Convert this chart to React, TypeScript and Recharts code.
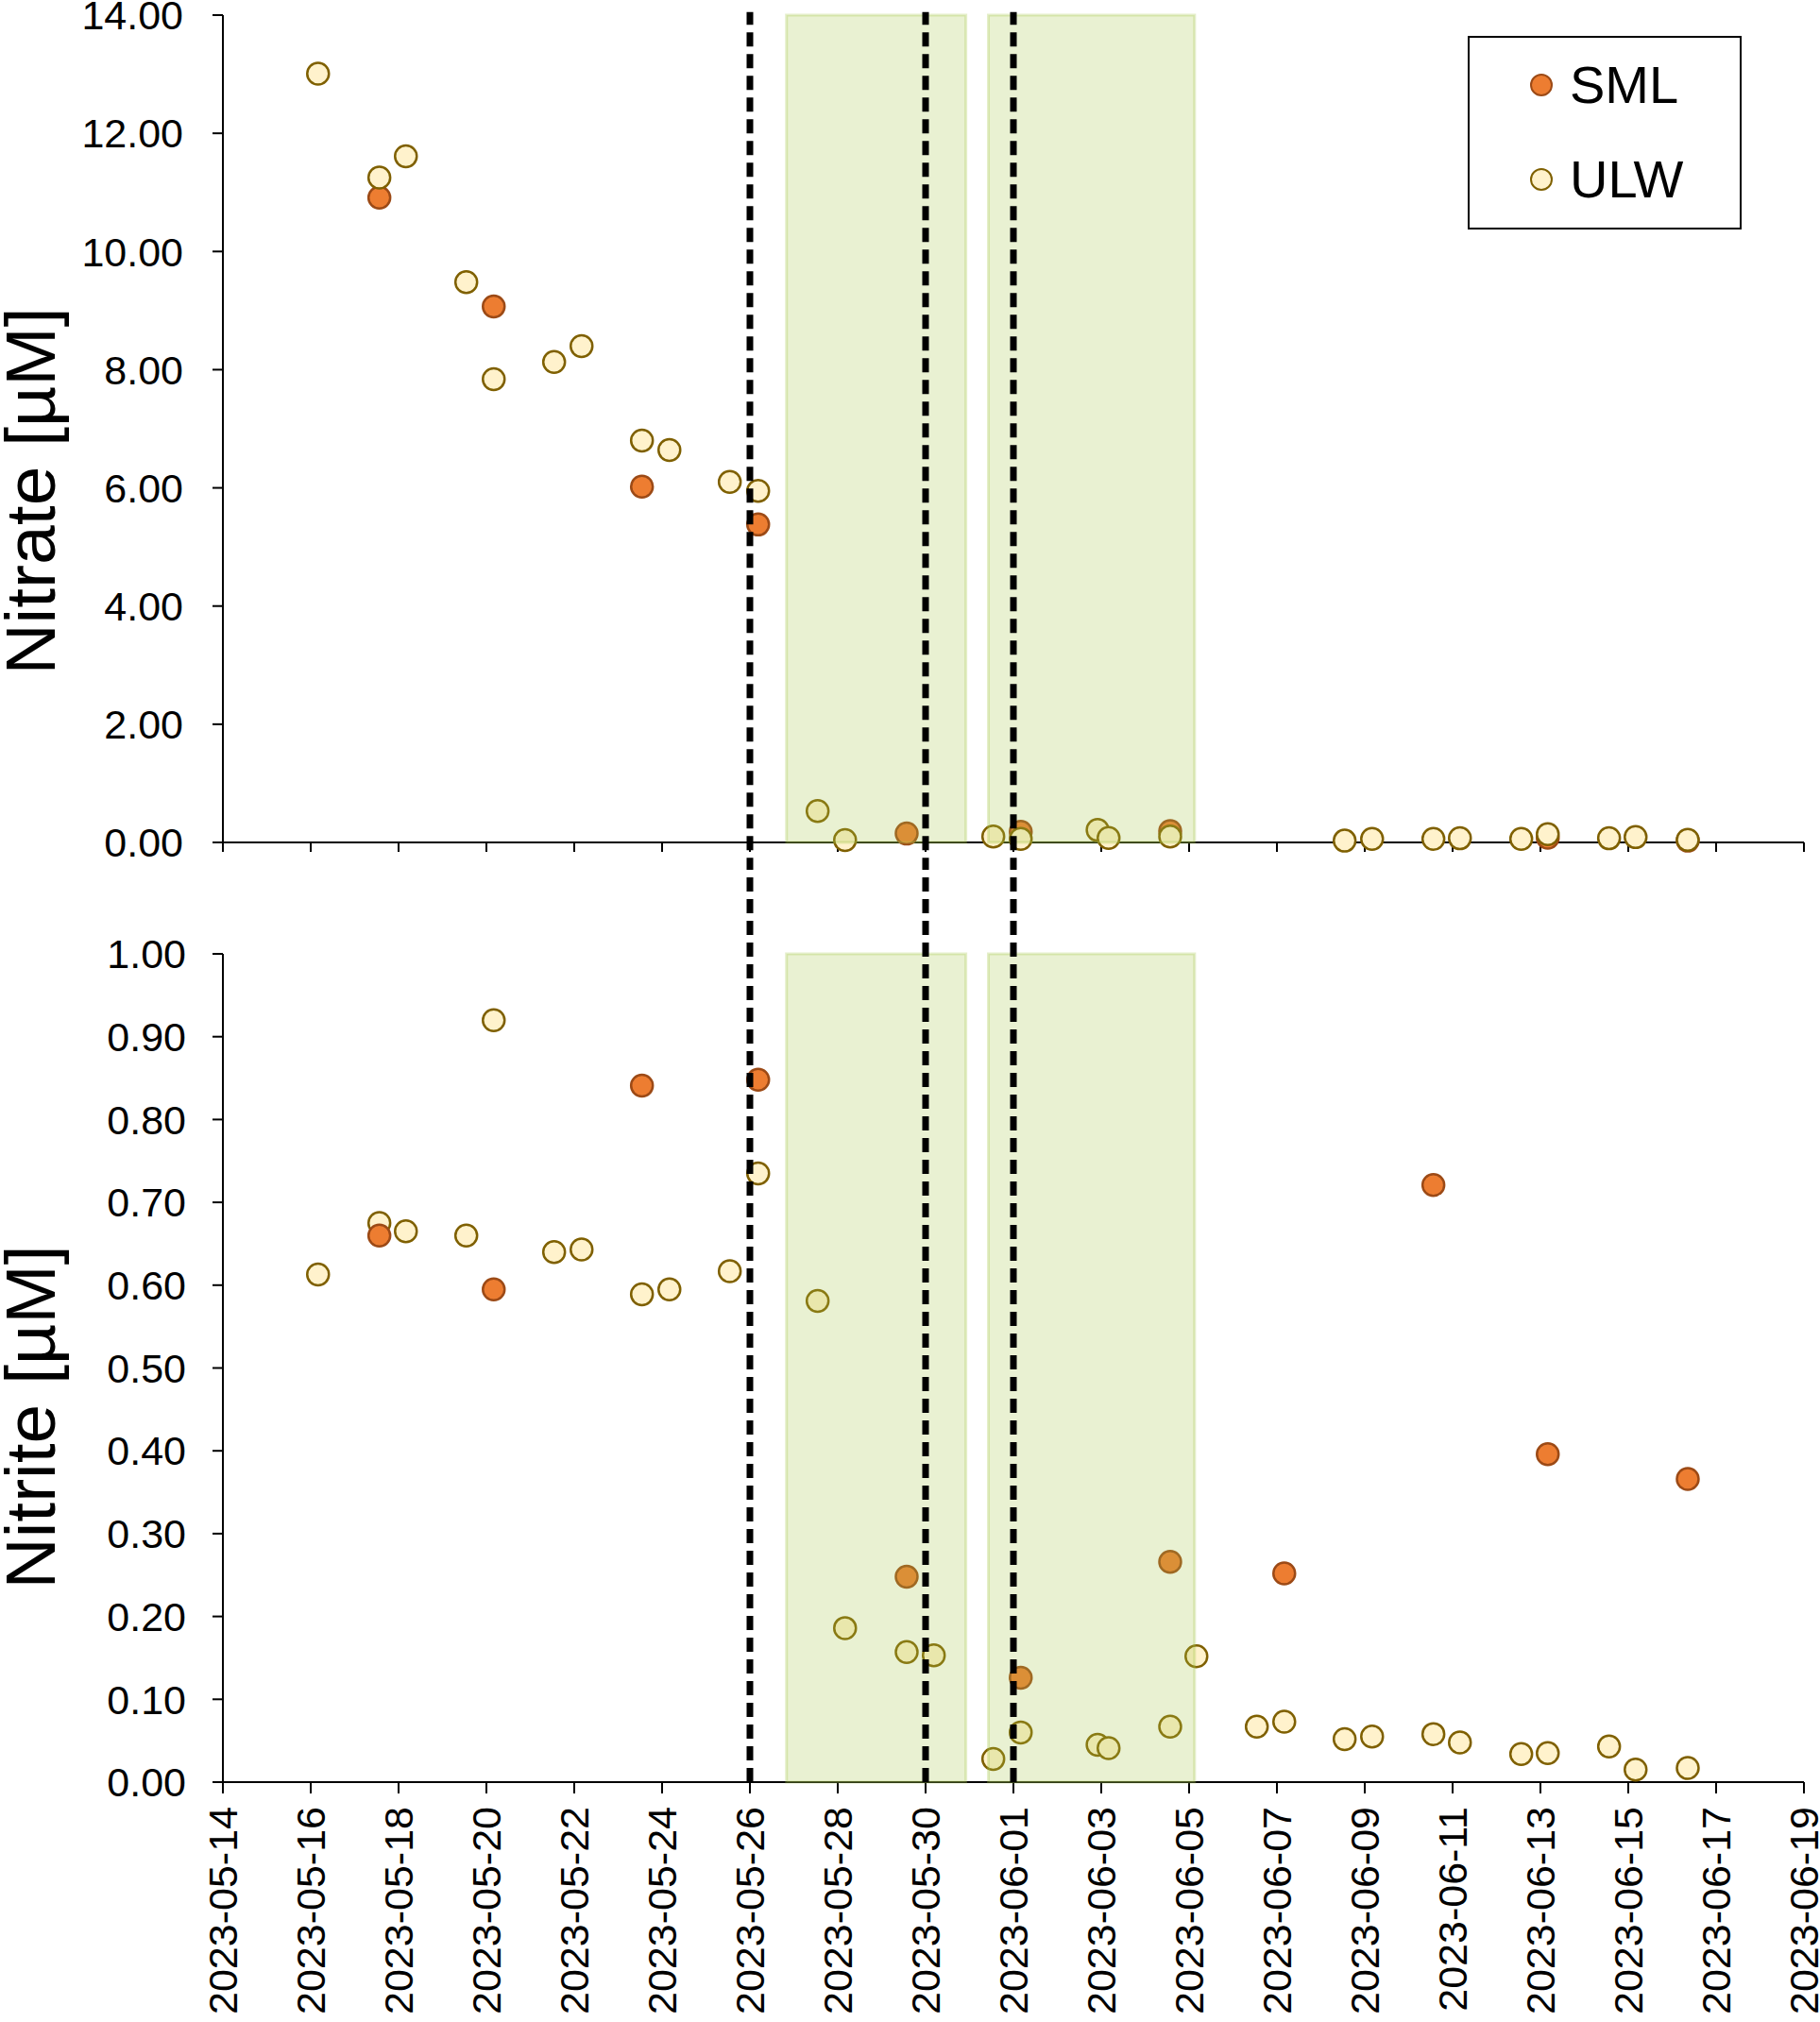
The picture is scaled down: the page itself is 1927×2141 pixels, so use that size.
import React from 'react'
import {
  ScatterChart,
  Scatter,
  XAxis,
  YAxis,
  ReferenceLine,
  ReferenceArea,
  Legend,
  Label,
} from 'recharts'

// Sampling times (UTC) shared by both panels
const SAMPLE_TIMES = [
  '2023-05-16T04:00', '2023-05-17T13:30', '2023-05-18T04:00', '2023-05-19T13:00',
  '2023-05-20T04:00', '2023-05-21T13:00', '2023-05-22T04:00', '2023-05-23T13:00',
  '2023-05-24T04:00', '2023-05-25T13:00', '2023-05-26T04:30', '2023-05-27T13:00',
  '2023-05-28T04:00', '2023-05-29T13:40', '2023-05-30T04:30', '2023-05-31T13:00',
  '2023-06-01T04:00', '2023-06-02T22:00', '2023-06-03T04:00', '2023-06-04T13:40',
  '2023-06-05T04:00', '2023-06-06T13:00', '2023-06-07T04:00', '2023-06-08T13:00',
  '2023-06-09T04:00', '2023-06-10T13:30', '2023-06-11T04:00', '2023-06-12T13:30',
  '2023-06-13T04:00', '2023-06-14T13:30', '2023-06-15T04:00', '2023-06-16T08:30',
]

const NITRATE_ULW = [
  13.01, 11.25, 11.61, 9.48, 7.84, 8.13, 8.4, 6.8, 6.64, 6.1, 5.95, 0.53, 0.04, null, null, 0.1,
  0.06, 0.21, 0.075, 0.1, null, null, null, 0.03, 0.06, 0.06, 0.07, 0.06, 0.14, 0.07, 0.09, 0.045,
]
const NITRATE_SML = [
  null, 10.91, null, null, 9.07, null, null, 6.02, null, null, 5.38, null, null, 0.15, null, null,
  0.18, null, null, 0.19, null, null, null, null, null, null, null, null, 0.08, null, null, 0.03,
]
const NITRITE_ULW = [
  0.613, 0.675, 0.665, 0.66, 0.92, 0.64, 0.643, 0.589, 0.595, 0.617, 0.735, 0.581, 0.186, 0.157,
  0.153, 0.028, 0.06, 0.045, 0.041, 0.067, 0.152, 0.067, 0.073, 0.052, 0.055, 0.058, 0.048, 0.034,
  0.035, 0.043, 0.015, 0.017,
]
const NITRITE_SML = [
  null, 0.66, null, null, 0.595, null, null, 0.841, null, null, 0.848, null, null, 0.248, null, null,
  0.126, null, null, 0.266, null, null, 0.252, null, null, 0.721, null, null, 0.396, null, null, 0.366,
]

const X_TICK_DATES = [
  '2023-05-14', '2023-05-16', '2023-05-18', '2023-05-20', '2023-05-22', '2023-05-24', '2023-05-26',
  '2023-05-28', '2023-05-30', '2023-06-01', '2023-06-03', '2023-06-05', '2023-06-07', '2023-06-09',
  '2023-06-11', '2023-06-13', '2023-06-15', '2023-06-17', '2023-06-19',
]
const NITRATE_TICKS = [0, 2, 4, 6, 8, 10, 12, 14]
const NITRITE_TICKS = [0, 0.1, 0.2, 0.3, 0.4, 0.5, 0.6, 0.7, 0.8, 0.9, 1.0]

// event markers (dashed) and shaded periods
const EVENT_DATES = ['2023-05-26T00:00', '2023-05-30T00:00', '2023-06-01T00:00']
const SHADED_PERIODS = [
  ['2023-05-26T20:00', '2023-05-30T22:00'],
  ['2023-05-31T10:20', '2023-06-05T03:00'],
]

const toMs = (s: string) => Date.parse((s.length === 10 ? s + 'T00:00' : s) + 'Z')
const fmtDate = (v: number) => new Date(v).toISOString().slice(0, 10)

const xTicks = X_TICK_DATES.map(toMs)
const X_DOMAIN: [number, number] = [xTicks[0], xTicks[xTicks.length - 1]]

function toPoints(values: (number | null)[]) {
  return SAMPLE_TIMES.map((t, i) => ({ x: toMs(t), y: values[i] })).filter((p) => p.y !== null)
}

const STYLES: Record<string, { fill: string; stroke: string }> = {
  SML: { fill: '#ED7D31', stroke: '#9C4A16' },
  ULW: { fill: '#FFF2CC', stroke: '#7F6000' },
}

const FONT = '"Liberation Sans", Arial, sans-serif'
const AXIS_LINE = { stroke: '#000', strokeWidth: 2 }
const TICK_STYLE = { fill: '#000', fontSize: 43 }
const SHADE_FILL = '#A7C74B'

function makeDot(name: string) {
  const s = STYLES[name]
  return (props: any) => (
    <circle cx={props.cx} cy={props.cy} r={11.5} fill={s.fill} stroke={s.stroke} strokeWidth={2.5} />
  )
}

function yTitle(text: string, shift: number) {
  return (props: any) => {
    const vb = props.viewBox || { x: 0, y: 0, width: 0, height: 0 }
    const x = vb.x + 58
    const y = vb.y + vb.height / 2 + shift
    return (
      <text x={x} y={y} transform={`rotate(-90, ${x}, ${y})`} textAnchor="middle" fontSize={75} fill="#000">
        {text}
      </text>
    )
  }
}

function DateTick(props: any) {
  const { x, y, payload } = props
  return (
    <text
      x={x}
      y={y}
      transform={`rotate(-90, ${x}, ${y})`}
      textAnchor="end"
      dy="0.35em"
      fill="#000"
      fontSize={43}
    >
      {fmtDate(payload.value)}
    </text>
  )
}

function renderLegend(props: any) {
  const payload = props.payload || []
  return (
    <div
      style={{
        width: 290,
        height: 205,
        boxSizing: 'border-box',
        border: '2px solid #000',
        background: '#fff',
        fontFamily: FONT,
      }}
    >
      {payload.map((entry: any) => {
        const s = STYLES[entry.value]
        return (
          <div key={entry.value} style={{ height: 100, display: 'flex', alignItems: 'center' }}>
            <svg width={26} height={26} style={{ marginLeft: 63 }}>
              <circle cx={13} cy={13} r={11} fill={s.fill} stroke={s.stroke} strokeWidth={2} />
            </svg>
            <span style={{ marginLeft: 17, fontSize: 56, lineHeight: 1, color: '#000' }}>{entry.value}</span>
          </div>
        )
      })}
    </div>
  )
}

export default function App() {
  return (
    <div style={{ width: 1927, height: 2141, fontFamily: FONT, background: '#fff' }}>
      <style>{'body{margin:0}'}</style>
      <ScatterChart width={1927} height={920} margin={{ top: 16, right: 17, bottom: 0, left: 0 }}>
        <XAxis
          type="number"
          dataKey="x"
          domain={X_DOMAIN}
          ticks={xTicks}
          interval={0}
          tickFormatter={() => ''}
          tickSize={10}
          height={28}
          axisLine={AXIS_LINE}
          tickLine={AXIS_LINE}
        />
        <YAxis
          type="number"
          dataKey="y"
          domain={[0, 14]}
          ticks={NITRATE_TICKS}
          interval={0}
          width={236}
          tickSize={11}
          tickMargin={31}
          tickFormatter={(v: number) => v.toFixed(2)}
          tick={TICK_STYLE}
          axisLine={AXIS_LINE}
          tickLine={AXIS_LINE}
        >
          <Label content={yTitle('Nitrate [µM]', 66)} />
        </YAxis>
        <Scatter name="SML" data={toPoints(NITRATE_SML)} fill={STYLES.SML.fill} shape={makeDot('SML')} isAnimationActive={false} />
        <Scatter name="ULW" data={toPoints(NITRATE_ULW)} fill={STYLES.ULW.fill} shape={makeDot('ULW')} isAnimationActive={false} />
        {SHADED_PERIODS.map(([a, b]) => (
          <ReferenceArea
            key={a}
            x1={toMs(a)}
            x2={toMs(b)}
            y1={0}
            y2={14}
            fill={SHADE_FILL}
            fillOpacity={0.25}
            stroke={SHADE_FILL}
            strokeOpacity={0.3}
            strokeWidth={3}
            zIndex={700}
          />
        ))}
        {EVENT_DATES.map((d) => (
          <ReferenceLine
            key={d}
            segment={[
              { x: toMs(d), y: -0.5 },
              { x: toMs(d), y: 14.05 },
            ]}
            ifOverflow="visible"
            stroke="#000"
            strokeWidth={7}
            strokeDasharray="15 8"
            zIndex={800}
          />
        ))}
        <Legend
          content={renderLegend}
          layout="vertical"
          align="center"
          verticalAlign="middle"
          wrapperStyle={{ left: 1554, top: 38, width: 290, height: 205 }}
        />
      </ScatterChart>
      <ScatterChart width={1927} height={1221} margin={{ top: 90, right: 17, bottom: 0, left: 0 }}>
        <XAxis
          type="number"
          dataKey="x"
          domain={X_DOMAIN}
          ticks={xTicks}
          tick={<DateTick />}
          tickSize={12}
          tickMargin={14}
          height={254}
          interval={0}
          axisLine={AXIS_LINE}
          tickLine={AXIS_LINE}
        />
        <YAxis
          type="number"
          dataKey="y"
          domain={[0, 1]}
          ticks={NITRITE_TICKS}
          interval={0}
          width={236}
          tickSize={11}
          tickMargin={28}
          tickFormatter={(v: number) => v.toFixed(2)}
          tick={TICK_STYLE}
          axisLine={AXIS_LINE}
          tickLine={AXIS_LINE}
        >
          <Label content={yTitle('Nitrite [µM]', 52)} />
        </YAxis>
        <Scatter name="ULW" data={toPoints(NITRITE_ULW)} fill={STYLES.ULW.fill} shape={makeDot('ULW')} isAnimationActive={false} />
        <Scatter name="SML" data={toPoints(NITRITE_SML)} fill={STYLES.SML.fill} shape={makeDot('SML')} isAnimationActive={false} />
        {SHADED_PERIODS.map(([a, b]) => (
          <ReferenceArea
            key={a}
            x1={toMs(a)}
            x2={toMs(b)}
            y1={0}
            y2={1}
            fill={SHADE_FILL}
            fillOpacity={0.25}
            stroke={SHADE_FILL}
            strokeOpacity={0.3}
            strokeWidth={3}
            zIndex={700}
          />
        ))}
        {EVENT_DATES.map((d) => (
          <ReferenceLine
            key={d}
            segment={[
              { x: toMs(d), y: 0 },
              { x: toMs(d), y: 1.12 },
            ]}
            ifOverflow="visible"
            stroke="#000"
            strokeWidth={7}
            strokeDasharray="15 8"
            zIndex={800}
          />
        ))}
      </ScatterChart>
    </div>
  )
}
